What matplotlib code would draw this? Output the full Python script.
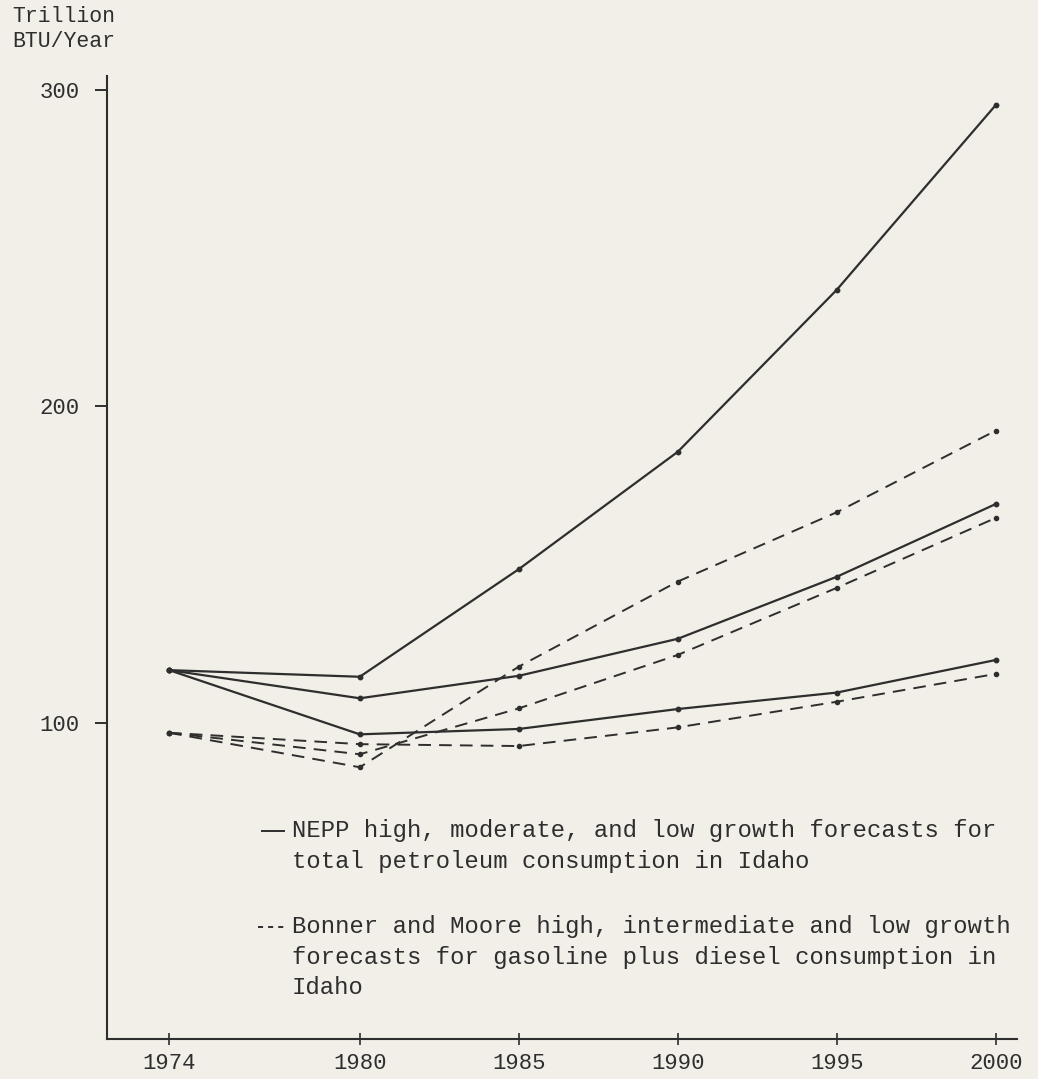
import matplotlib
matplotlib.use("Agg")
import matplotlib.pyplot as plt
from matplotlib.lines import Line2D

# Forecast years and consumption (trillion BTU per year)
years = [1974, 1980, 1985, 1990, 1995, 2000]
year_labels = ["1974", "1980", "1985", "1990", "1995", "2000"]

nepp_high = [116.6, 114.5, 148.5, 185.6, 236.8, 295.2]
nepp_moderate = [116.6, 107.7, 114.8, 126.5, 146.1, 169.1]
nepp_low = [116.6, 96.3, 98.0, 104.3, 109.5, 119.8]

bm_high = [96.8, 85.9, 117.7, 144.6, 166.5, 192.3]
bm_intermediate = [96.8, 90.0, 104.5, 121.4, 142.6, 164.7]
bm_low = [96.8, 93.2, 92.6, 98.5, 106.6, 115.4]

y_ticks = [100, 200, 300]

BG = "#f2efe8"
INK = "#2e2e2e"
MONO = "Liberation Mono"

fig = plt.figure(figsize=(10.38, 10.79), dpi=100, facecolor=BG)
W, H = 1038, 1079
ax = fig.add_axes([107 / W, 40 / H, (1017 - 107) / W, (1003 - 40) / H])
ax.set_facecolor(BG)

solid_kw = dict(color=INK, lw=1.6, marker="o", ms=3.2, solid_joinstyle="miter")
dash_kw = dict(color=INK, lw=1.4, marker="o", ms=3.0, linestyle=(0, (6.5, 4.2)))

for series in (nepp_high, nepp_moderate, nepp_low):
    ax.plot(years, series, **solid_kw)
for series in (bm_high, bm_intermediate, bm_low):
    ax.plot(years, series, **dash_kw)

ax.set_xlim(1972.05, 2000.67)
ax.set_ylim(0, 304.4)

for side in ("top", "right"):
    ax.spines[side].set_visible(False)
for side in ("left", "bottom"):
    ax.spines[side].set_color(INK)
    ax.spines[side].set_linewidth(1.5)

ax.set_xticks(years)
ax.set_xticklabels(year_labels, fontfamily=MONO, fontsize=16, color=INK)
ax.set_yticks(y_ticks)
ax.set_yticklabels([str(v) for v in y_ticks], fontfamily=MONO, fontsize=16, color=INK)
ax.tick_params(axis="y", direction="out", length=8.5, width=1.4, color=INK, pad=11)
ax.tick_params(axis="x", direction="inout", length=8, width=1.2, color=INK, pad=6)

# Unit label above the value axis
fig.text(12 / W, 1 - 29 / H, "Trillion\nBTU/Year", ha="left", va="center",
         fontfamily=MONO, fontsize=15.5, color=INK, linespacing=1.25)

# Key
key_kw = dict(fontfamily=MONO, fontsize=17.2, color=INK, ha="left", va="top",
              linespacing=1.42)
fig.add_artist(Line2D([262 / W, 284 / W], [1 - 831 / H, 1 - 831 / H],
                      color=INK, lw=1.4, transform=fig.transFigure))
fig.text(292 / W, 1 - 819 / H,
         "NEPP high, moderate, and low growth forecasts for\n"
         "total petroleum consumption in Idaho", **key_kw)
fig.add_artist(Line2D([258 / W, 285 / W], [1 - 927 / H, 1 - 927 / H],
                      color=INK, lw=1.4, linestyle=(0, (2.6, 2.6)),
                      transform=fig.transFigure))
fig.text(292 / W, 1 - 915 / H,
         "Bonner and Moore high, intermediate and low growth\n"
         "forecasts for gasoline plus diesel consumption in\n"
         "Idaho", **key_kw)

fig.savefig("out.png", dpi=100, facecolor=BG)
